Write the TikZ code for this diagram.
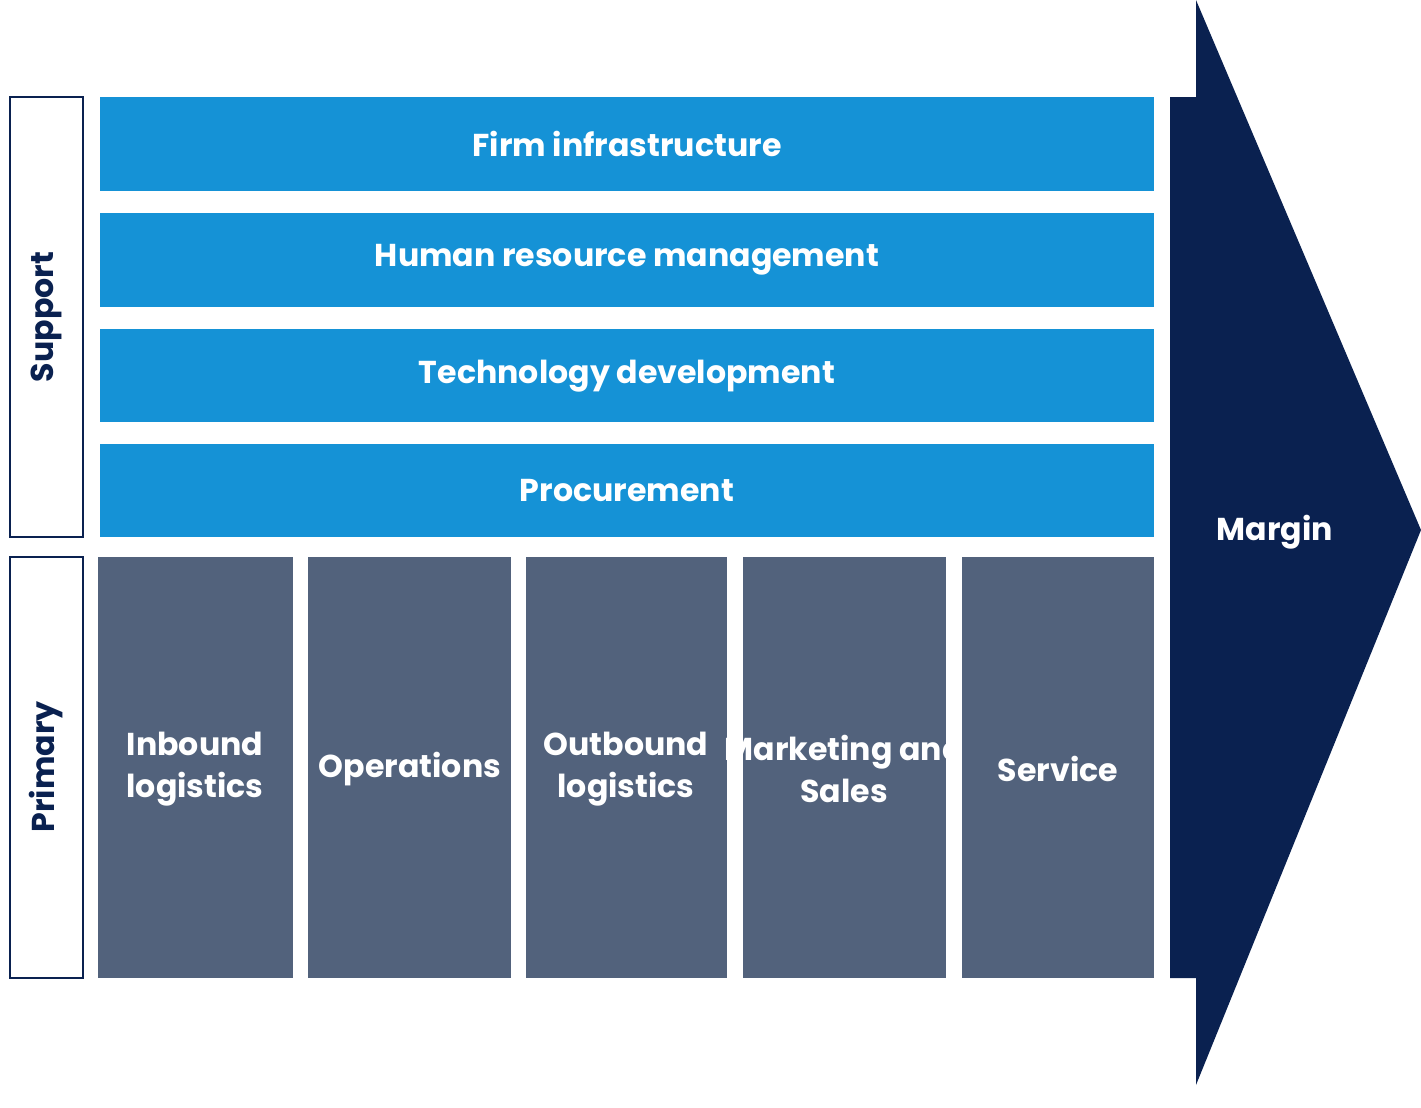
\documentclass[tikz,border=0pt]{standalone}
\usepackage{fontspec}
\setmainfont{Poppins}
\definecolor{bluebar}{HTML}{1592D6}
\definecolor{graycol}{HTML}{52627C}
\definecolor{navy}{HTML}{0A2150}
\begin{document}
\begin{tikzpicture}[x=0.02cm,y=-0.02cm,
  lbl/.style={draw=navy,line width=1pt,fill=white},
  bar/.style={fill=bluebar},
  col/.style={fill=graycol},
  txt/.style={text=white,font=\fontsize{18}{24}\selectfont\bfseries,align=center},
  side/.style={text=navy,font=\fontsize{18}{22}\selectfont\bfseries,rotate=90}]
\useasboundingbox (0,0) rectangle (1421,1107);
\fill[navy] (1170,97) -- (1196,97) -- (1196,0) -- (1421,530) -- (1196,1085) -- (1196,978) -- (1170,978) -- cycle;
\node[txt] (margin) at (1275,532) {Margin};
\draw[lbl] (10,97) rectangle (83,537);
\node[side] (support) at (46,317) {Support};
\draw[lbl] (10,557) rectangle (83,978);
\node[side] (primary) at (46,767) {Primary};
\fill[bar] (100,97) rectangle (1154,191);
\node[txt] (firm) at (627,144) {Firm infrastructure};
\fill[bar] (100,213) rectangle (1154,307);
\node[txt] (hrm) at (627,260) {Human resource management};
\fill[bar] (100,329) rectangle (1154,422);
\node[txt] (tech) at (627,376) {Technology development};
\fill[bar] (100,444) rectangle (1154,537);
\node[txt] (proc) at (627,491) {Procurement};
\fill[col] (98,557) rectangle (293,978);
\node[txt] (inb) at (195,769) {Inbound\\logistics};
\fill[col] (308,557) rectangle (511,978);
\node[txt] (ops) at (410,769) {Operations};
\fill[col] (526,557) rectangle (727,978);
\node[txt] (outb) at (626,769) {Outbound\\logistics};
\fill[col] (743,557) rectangle (946,978);
\node[txt] (mkt) at (844,769) {Marketing and\\Sales};
\fill[col] (962,557) rectangle (1154,978);
\node[txt] (serv) at (1058,769) {Service};
\end{tikzpicture}
\end{document}
